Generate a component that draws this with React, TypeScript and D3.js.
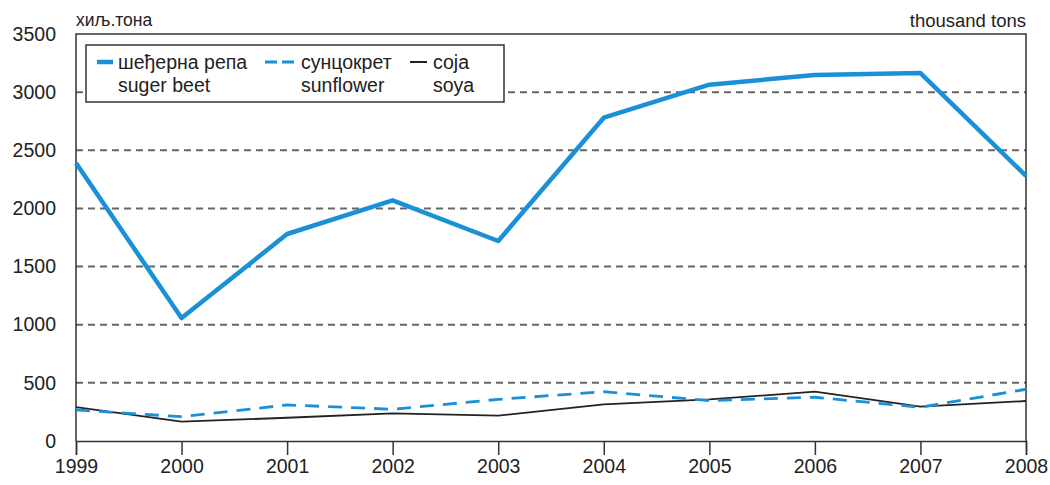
import React, { useEffect, useRef } from "react";
import * as d3 from "d3";

const years = [1999, 2000, 2001, 2002, 2003, 2004, 2005, 2006, 2007, 2008];
const sugarBeet = [2390, 1057, 1780, 2070, 1720, 2780, 3064, 3148, 3164, 2280];
const sunflower = [267, 209, 310, 273, 358, 424, 347, 376, 290, 445];
const soya = [292, 166, 200, 238, 218, 315, 358, 424, 295, 344];
const yTicks = [0, 500, 1000, 1500, 2000, 2500, 3000, 3500];

const W = 1050;
const H = 485;
const BLUE = "#1a90d8";

export default function App() {
    const ref = useRef<SVGSVGElement>(null);

    useEffect(() => {
        const svg = d3.select(ref.current);
        svg.selectAll("*").remove();

        const margin = { top: 34, right: 24, bottom: 44, left: 76 };
        const width = W - margin.left - margin.right;
        const height = H - margin.top - margin.bottom;

        const x = d3.scaleLinear().domain([1999, 2008]).range([0, width]);
        const y = d3.scaleLinear().domain([0, 3500]).range([height, 0]);

        const g = svg.append("g").attr("transform", `translate(${margin.left},${margin.top})`);
        const font = "'Liberation Sans', Arial, sans-serif";

        // dashed grid
        g.selectAll(".grid")
            .data(yTicks.filter(t => t > 0 && t < 3500))
            .enter()
            .append("line")
            .attr("x1", 0)
            .attr("x2", width)
            .attr("y1", d => y(d))
            .attr("y2", d => y(d))
            .attr("stroke", "#666")
            .attr("stroke-width", 2)
            .attr("stroke-dasharray", "7,5");

        // frame (top + right + left)
        g.append("path")
            .attr("d", `M0,${height}V0H${width}V${height}`)
            .attr("fill", "none")
            .attr("stroke", "#333")
            .attr("stroke-width", 1.5);

        // x axis
        const xAxis = g.append("g")
            .attr("transform", `translate(0,${height})`)
            .call(d3.axisBottom(x).tickValues(years).tickFormat(d3.format("d")).tickSize(14).tickPadding(4) as any);
        xAxis.select(".domain").attr("stroke", "#333").attr("stroke-width", 1.5);
        xAxis.selectAll(".tick line").attr("stroke", "#333").attr("stroke-width", 1.5);
        xAxis.selectAll("text").attr("font-family", font).attr("font-size", 19.5).attr("fill", "#222");

        // y axis labels
        const yAxis = g.append("g")
            .call(d3.axisLeft(y).tickValues(yTicks).tickFormat(d3.format("d")).tickSize(0).tickPadding(20) as any);
        yAxis.select(".domain").remove();
        yAxis.selectAll("text").attr("font-family", font).attr("font-size", 19.5).attr("fill", "#222");

        const line = d3.line<number>()
            .x((d, i) => x(years[i]))
            .y(d => y(d));

        g.append("path").datum(soya).attr("d", line).attr("fill", "none")
            .attr("stroke", "#222").attr("stroke-width", 1.8);
        g.append("path").datum(sunflower).attr("d", line).attr("fill", "none")
            .attr("stroke", BLUE).attr("stroke-width", 2.8).attr("stroke-dasharray", "14,9");
        g.append("path").datum(sugarBeet).attr("d", line).attr("fill", "none")
            .attr("stroke", BLUE).attr("stroke-width", 4.5).attr("stroke-linejoin", "round");

        // unit labels
        svg.append("text").attr("x", 76).attr("y", 26).text("хиљ.тона")
            .attr("font-family", font).attr("font-size", 17.5).attr("fill", "#222");
        svg.append("text").attr("x", W - margin.right).attr("y", 27).attr("text-anchor", "end")
            .text("thousand tons").attr("font-family", font).attr("font-size", 18.5).attr("fill", "#222");

        // legend
        const lg = svg.append("g").attr("transform", "translate(86,45)");
        lg.append("rect").attr("width", 418).attr("height", 57).attr("fill", "white")
            .attr("stroke", "#333").attr("stroke-width", 1.5);
        const items = [
            { sx: 11, tx: 32, sw: 16, w: 4.5, dash: null, c: BLUE, l1: "шеђерна репа", l2: "suger beet" },
            { sx: 179, tx: 215, sw: 29, w: 2.8, dash: "12,5", c: BLUE, l1: "сунцокрет", l2: "sunflower" },
            { sx: 324, tx: 347, sw: 17, w: 2, dash: null, c: "#222", l1: "соја", l2: "soya" },
        ];
        items.forEach(it => {
            lg.append("line").attr("x1", it.sx).attr("x2", it.sx + it.sw).attr("y1", 17).attr("y2", 17)
                .attr("stroke", it.c).attr("stroke-width", it.w)
                .attr("stroke-dasharray", it.dash);
            lg.append("text").attr("x", it.tx).attr("y", 24).text(it.l1)
                .attr("font-family", font).attr("font-size", 19.5).attr("fill", "#222");
            lg.append("text").attr("x", it.tx).attr("y", 47).text(it.l2)
                .attr("font-family", font).attr("font-size", 19.5).attr("fill", "#222");
        });
    }, []);

    return (
        <div style={{ position: "absolute", left: 0, top: 0, background: "white" }}>
            <svg ref={ref} width={W} height={H} style={{ display: "block" }} />
        </div>
    );
}
